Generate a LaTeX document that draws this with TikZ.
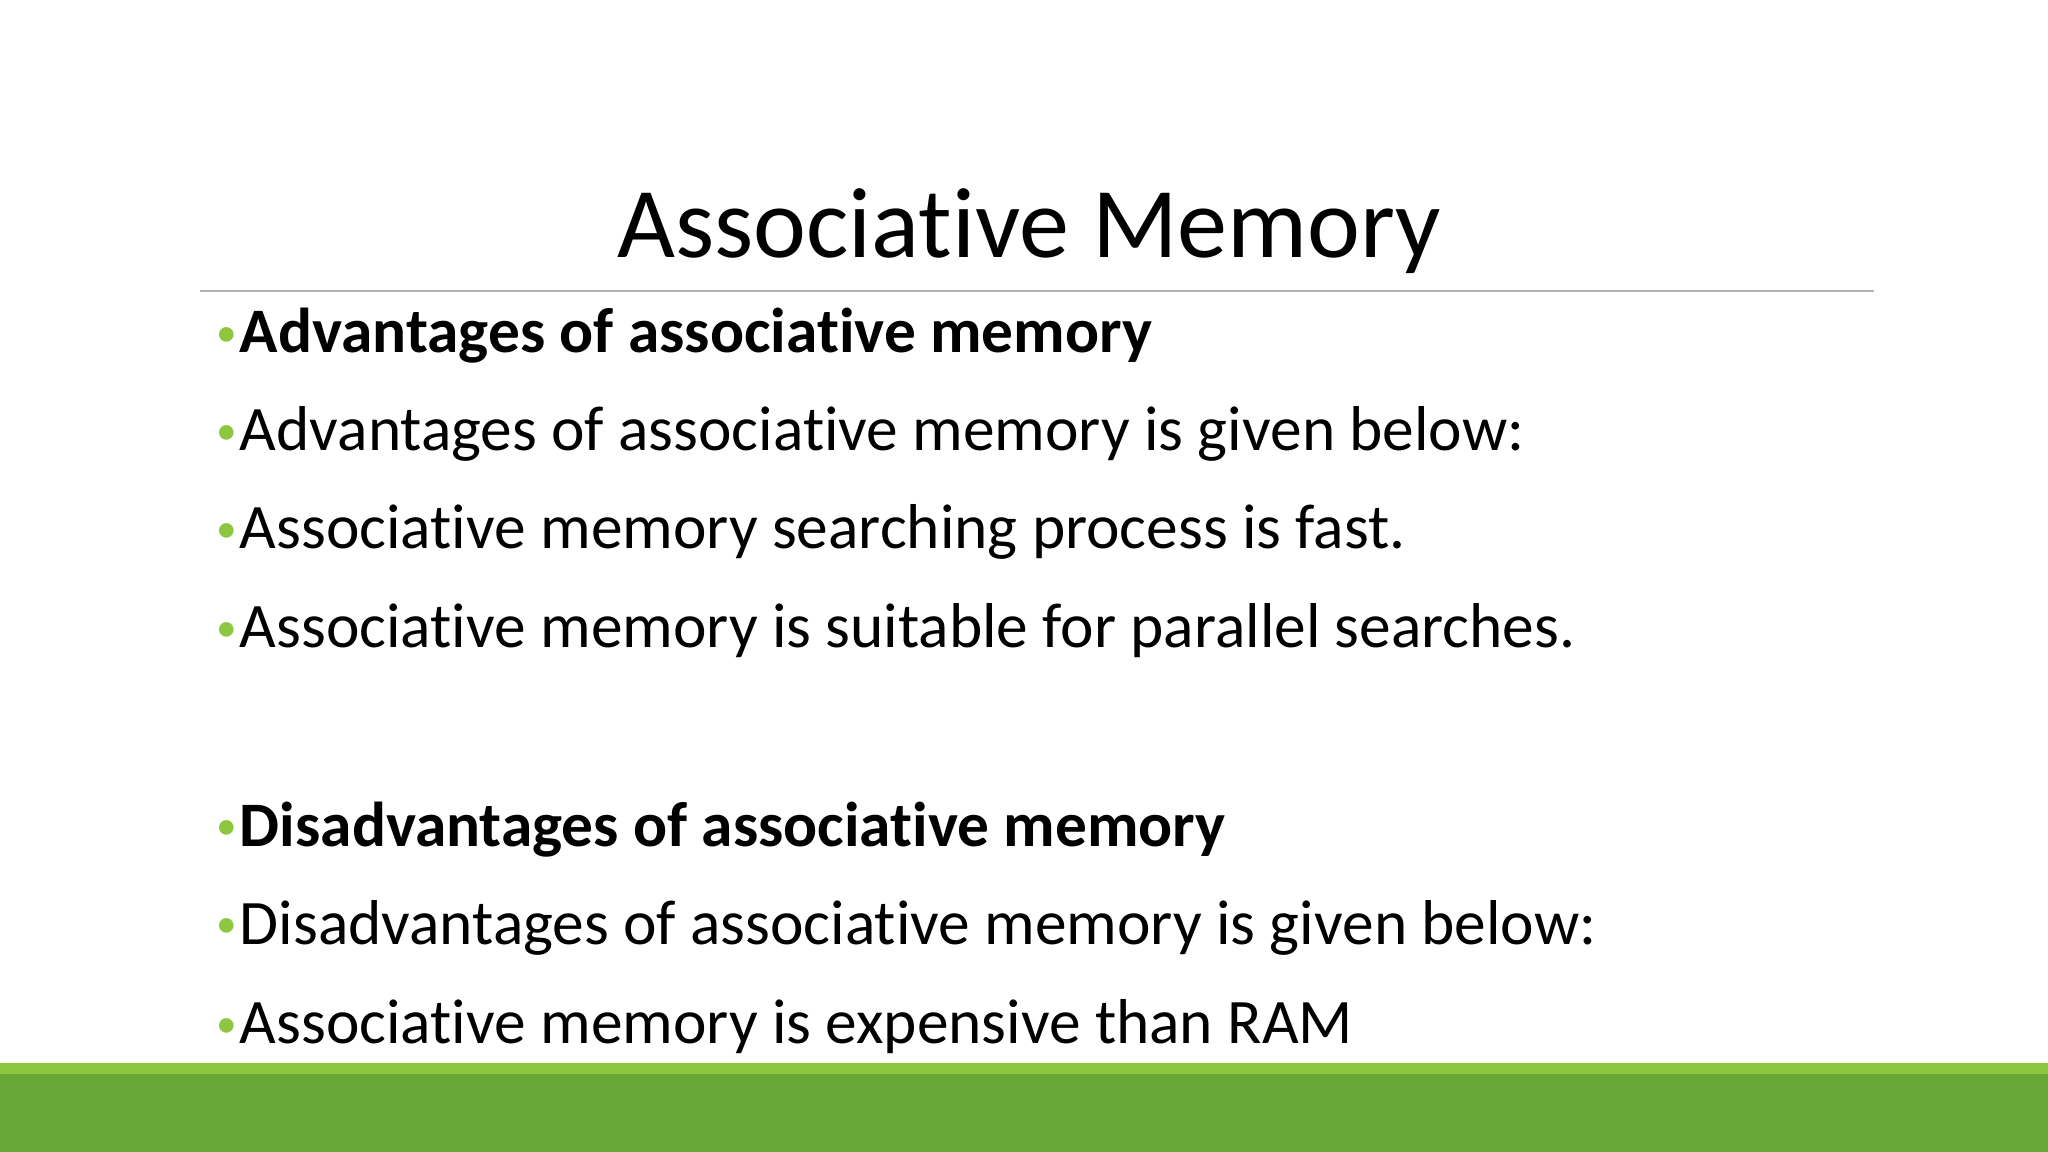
\documentclass[tikz,border=0pt]{standalone}
\usepackage{fontspec}
\setmainfont{Carlito}[Ligatures=NoCommon]
\definecolor{lgreen}{HTML}{8DC63F}
\definecolor{dgreen}{HTML}{68A738}
\begin{document}
\begin{tikzpicture}[x=0.01cm,y=-0.01cm,
  item/.style={anchor=base west,inner sep=0,font=\fontsize{13.8}{15}\selectfont},
  bul/.style={anchor=base east,inner sep=0,text=lgreen,font=\fontsize{9}{10}\selectfont}]
\useasboundingbox (0,0) rectangle (1568,882);
\fill[white] (0,0) rectangle (1568,882);
\node[anchor=base,inner sep=0,font=\fontsize{21.8}{26}\selectfont] (title) at (788,197) {Associative Memory};
\draw[gray!60,line width=0.4pt] (153,223) coordinate (l1) -- (1435,223) coordinate (l2);
\foreach \y/\t [count=\i] in {270/{\textbf{Advantages of associative memory}},
  345/{Advantages of associative memory is given below:},
  420/{Associative memory searching process is fast.},
  496/{Associative memory is suitable for parallel searches.},
  648/{\textbf{Disadvantages of associative memory}},
  723/{Disadvantages of associative memory is given below:},
  799/{Associative memory is expensive than RAM}}{
  \node[bul] (b\i) at (182,\y-5) {•};
  \node[item] (t\i) at (183,\y) {\t};
}
\fill[lgreen] (0,814) rectangle (1568,823);
\fill[dgreen] (0,822) rectangle (1568,882);
\end{tikzpicture}
\end{document}
